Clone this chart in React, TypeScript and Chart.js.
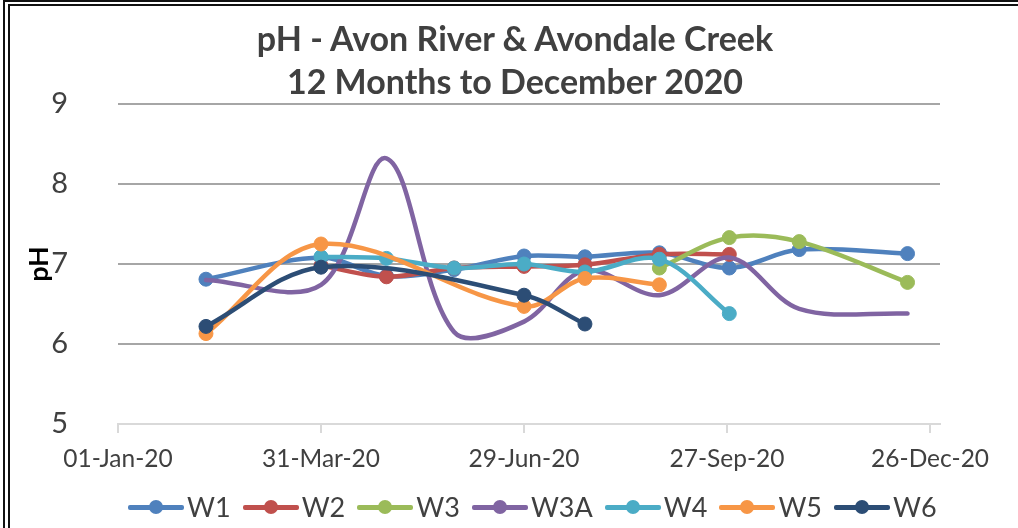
import React, { useEffect, useRef } from "react";
import { Chart, registerables } from "chart.js";

Chart.register(...registerables);

const titleLines = ["pH - Avon River & Avondale Creek", "12 Months to December 2020"];
const yAxisTitle = "pH";
const sampleDates = [
  "2020-02-09", "2020-03-31", "2020-04-29", "2020-05-29", "2020-06-29",
  "2020-07-26", "2020-08-28", "2020-09-28", "2020-10-29", "2020-12-16",
];
const seriesNames = ["W1", "W2", "W3", "W3A", "W4", "W5", "W6"];
const w1 = [6.81, 7.08, 6.85, 6.93, 7.10, 7.09, 7.14, 6.95, 7.18, 7.13];
const w2 = [null, 6.98, 6.84, 6.95, 6.97, 6.99, 7.12, 7.12, null, null];
const w3 = [null, null, null, null, null, null, 6.95, 7.33, 7.28, 6.77];
const w3a = [6.80, 6.74, 8.32, 6.15, 6.28, 6.92, 6.61, 7.08, 6.44, 6.38];
const w4 = [null, 7.09, 7.07, 6.95, 7.00, 6.90, 7.06, 6.38, null, null];
const w5 = [6.13, 7.25, null, null, 6.47, 6.82, 6.74, null, null, null];
const w6 = [6.22, 6.96, null, null, 6.61, 6.25, null, null, null, null];
const seriesValues = [w1, w2, w3, w3a, w4, w5, w6];
const seriesColors = ["#4F81BD", "#C0504D", "#9BBB59", "#8064A2", "#4BACC6", "#F79646", "#2C4D75"];
const seriesMarkers = [true, true, true, false, true, true, true];
const xTickDates = ["2020-01-01", "2020-03-31", "2020-06-29", "2020-09-27", "2020-12-26"];
const xTickLabels = ["01-Jan-20", "31-Mar-20", "29-Jun-20", "27-Sep-20", "26-Dec-20"];
const xStart = "2020-01-01";
const xEndDays = 364.4;
const yMin = 5;
const yMax = 9;

const DAY = 86400000;
const dayOf = (d: string) => (Date.parse(d) - Date.parse(xStart)) / DAY;

const FONT = "Lato, 'Open Sans', sans-serif";
const TEXT = "#404040";

export default function App() {
  const ref = useRef<HTMLCanvasElement | null>(null);

  useEffect(() => {
    if (!ref.current) return;
    const datasets = seriesNames.map((name, i) => ({
      label: name,
      data: sampleDates
        .map((d, j) => ({ x: dayOf(d), y: seriesValues[i][j] }))
        .filter((p) => p.y !== null),
      borderColor: seriesColors[i],
      backgroundColor: seriesColors[i],
      pointBackgroundColor: seriesColors[i],
      pointBorderColor: seriesColors[i],
      borderWidth: 4.5,
      pointRadius: seriesMarkers[i] ? 7 : 0,
      pointBorderWidth: 1,
      tension: 0.34,
      spanGaps: true,
      order: seriesNames.length - i,
      borderCapStyle: "round" as const,
    }));

    const chart = new Chart(ref.current, {
      type: "line",
      data: { datasets },
      options: {
        animation: false,
        responsive: false,
        events: [],
        layout: { padding: { left: 0, right: 78, top: 104, bottom: 0 } },
        plugins: { legend: { display: false }, title: { display: false }, tooltip: { enabled: false } },
        scales: {
          x: {
            type: "linear",
            min: 0,
            max: xEndDays,
            bounds: "data",
            afterFit: (s: any) => { s.height = 104; },
            afterBuildTicks: (s: any) => { s.ticks = xTickDates.map((d) => ({ value: dayOf(d) })); },
            border: { display: true, color: "#d9d9d9", width: 2 },
            grid: { drawOnChartArea: false, drawTicks: true, tickLength: 9, tickColor: "#d9d9d9", lineWidth: 2 },
            ticks: {
              autoSkip: false,
              maxRotation: 0,
              padding: 11,
              color: TEXT,
              font: { family: FONT, size: 24.5 },
              callback: (_v: any, idx: number) => xTickLabels[idx] ?? "",
            },
          },
          y: {
            min: yMin,
            max: yMax,
            afterFit: (s: any) => { s.width = 118; },
            border: { display: false },
            grid: {
              drawTicks: false,
              color: (ctx: any) => (ctx.tick && ctx.tick.value === yMin ? "#d9d9d9" : "#a6a6a6"),
              lineWidth: 2,
            },
            ticks: {
              stepSize: 1,
              padding: 50,
              color: TEXT,
              font: { family: FONT, size: 29 },
            },
            title: {
              display: true,
              text: yAxisTitle,
              color: "#000",
              font: { family: FONT, size: 27, weight: "bold" },
              padding: { top: 23, bottom: 0 },
            },
          },
        },
      },
    });
    return () => chart.destroy();
  }, []);

  return (
    <div style={{ position: "fixed", left: 0, top: 0, width: 1018, height: 528, background: "#fff", overflow: "hidden", fontFamily: FONT }}>
      <canvas ref={ref} width={1018} height={528} style={{ position: "absolute", left: 0, top: 0, width: 1018, height: 528 }} />
      {/* frame */}
      <div style={{ position: "absolute", left: 3, top: 0, width: 2, height: 528, background: "#111" }} />
      <div style={{ position: "absolute", left: 8, top: 4, width: 2, height: 524, background: "#111" }} />
      <div style={{ position: "absolute", left: 3, top: 0, width: 1015, height: 2, background: "#111" }} />
      <div style={{ position: "absolute", left: 8, top: 4, width: 1010, height: 2, background: "#111" }} />
      {/* title */}
      {titleLines.map((t, i) => (
        <div key={i} style={{ position: "absolute", left: 10, width: 1010, top: 21 + i * 43, textAlign: "center", fontSize: 34, lineHeight: "34px", fontWeight: 700, color: TEXT, whiteSpace: "nowrap" }}>{t}</div>
      ))}
      {/* legend */}
      <div style={{ position: "absolute", left: 128, top: 493, height: 28, display: "flex", alignItems: "center", whiteSpace: "nowrap" }}>
        {seriesNames.map((n, i) => (
          <div key={n} style={{ display: "flex", alignItems: "center", marginRight: 12 }}>
            <div style={{ position: "relative", width: 56, height: 5, background: seriesColors[i], borderRadius: 2 }}>
              <div style={{ position: "absolute", left: 21, top: -5, width: 14, height: 14, borderRadius: 7, background: seriesColors[i] }} />
            </div>
            <span style={{ marginLeft: 3, fontSize: 27, lineHeight: "28px", color: TEXT }}>{n}</span>
          </div>
        ))}
      </div>
    </div>
  );
}
